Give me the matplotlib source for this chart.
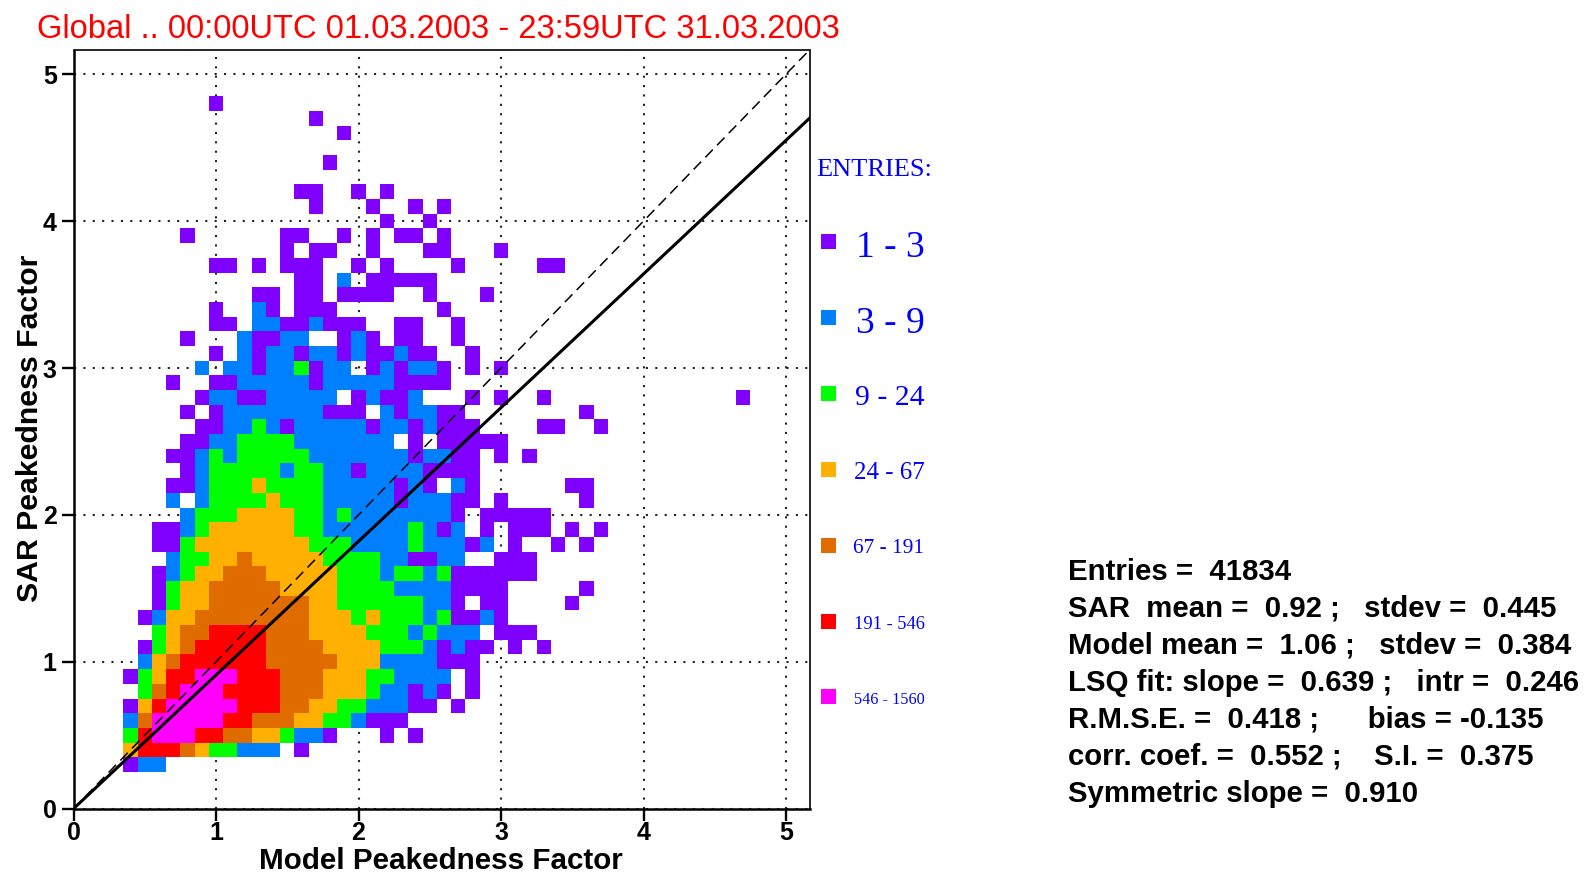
"""Peakedness factor scatter table: SAR against model, binned at 0.1."""
import matplotlib
matplotlib.use("Agg")
import matplotlib.pyplot as plt
import numpy as np
from matplotlib.colors import BoundaryNorm, ListedColormap
from matplotlib.patches import Rectangle

W, H = 1586, 872

TITLE = "Global .. 00:00UTC 01.03.2003 - 23:59UTC 31.03.2003"
X_LABEL = "Model Peakedness Factor"
Y_LABEL = "SAR Peakedness Factor"
TICKS = [0, 1, 2, 3, 4, 5]
BIN = 0.1
FIT_SLOPE = 0.910

LEGEND_LABELS = ["1 - 3", "3 - 9", "9 - 24", "24 - 67", "67 - 191", "191 - 546", "546 - 1560"]
LEVEL_COLORS = ["#8000ff", "#0080ff", "#00ff00", "#ffb000", "#e06c00", "#ff0000", "#ff00ff"]

STATS = [
    "Entries =  41834",
    "SAR  mean =  0.92 ;   stdev =  0.445",
    "Model mean =  1.06 ;   stdev =  0.384",
    "LSQ fit: slope =  0.639 ;   intr =  0.246",
    "R.M.S.E. =  0.418 ;      bias = -0.135",
    "corr. coef. =  0.552 ;    S.I. =  0.375",
    "Symmetric slope =  0.910",
]

# colour class per bin, '.' = no entries. First row is y=0.3, first char is x=0.4
FIRST_ROW = 3
FIRST_COL = 4
LEVEL_ROWS = [
    "122",
    "46665433222.1",
    "367776655443221...1.1",
    "25777776655544332111",
    "1467777766655443322211.1",
    ".3567776666555444322121.1",
    "13466777666555444332222.1",
    ".245666666555554442222111",
    ".1345666665555444433321211.1.1",
    "..34556666555444433323222.111",
    ".12445555555544434333231121",
    "..1344555555544333333221.11....1",
    "..1344555554444333322221111.....1",
    "..123445554444433323323111111",
    "...233445444443333221122..111",
    "..113444444443332222322212.1..1.1",
    "..1123444444332222223212.1.111.1.1",
    "....23334444332322222221.11111",
    "...2.23333433322222122211.1.....1",
    "...1123334333322222121.21......11",
    "....123333323322122221111",
    "...1123233333222222212211.1.1",
    "....112233332222222.1.11111",
    ".....11223212222212212111....11..1",
    "....1.12222222111.212211........1",
    ".....1221122222.12112...1.1..1.............1",
    "...1..11222221222221111",
    ".....2.221223122.121221.1.1",
    "......1.21221221211211..1",
    "....1...21122..121.11..1",
    "......11.22112111..11..1",
    "......1..21.111.......1",
    ".........11.11.1111..1...1",
    "............11.2.11111",
    "......11.1.111..1.1....1.....11",
    "...........1.11..1...11...1",
    "....1......11..1.1.11.1",
    "..................1..1",
    ".............1...1..1.1",
    "............11..1.1",
    "",
    "..............1",
    "",
    "...............1",
    ".............1",
    "......1",
]


def level_grid():
    ncol = FIRST_COL + max(len(r) for r in LEVEL_ROWS)
    nrow = FIRST_ROW + len(LEVEL_ROWS)
    grid = np.full((nrow, ncol), np.nan)
    for j, row in enumerate(LEVEL_ROWS):
        for i, ch in enumerate(row):
            if ch != ".":
                grid[FIRST_ROW + j, FIRST_COL + i] = int(ch)
    return grid


def main():
    plt.rcParams["font.family"] = ["Liberation Sans", "DejaVu Sans"]
    fig = plt.figure(figsize=(W / 100, H / 100), dpi=100)

    # axes box in pixels
    left, right, top, bottom = 73.5, 809.7, 50.5, 808.7
    ax = fig.add_axes([left / W, 1 - bottom / H, (right - left) / W, (bottom - top) / H])
    ax.set_xlim(0, (right - left) / 142.5)
    ax.set_ylim(0, (bottom - top) / 146.9)

    grid = level_grid()
    xe = (np.arange(grid.shape[1] + 1) - 0.5) * BIN
    ye = (np.arange(grid.shape[0] + 1) - 0.5) * BIN
    cmap = ListedColormap(LEVEL_COLORS)
    norm = BoundaryNorm(np.arange(0.5, 8.5), cmap.N)
    ax.pcolormesh(xe, ye, grid, cmap=cmap, norm=norm, antialiased=False, zorder=2)

    ax.grid(True, color="#222222", linestyle=(0, (1, 3.5)), linewidth=1.5, zorder=1)
    ax.set_axisbelow(True)

    xs = np.array([0, 6.0])
    ax.plot(xs, xs, color="black", lw=1.1, ls=(0, (7, 4)), zorder=3)
    ax.plot(xs, FIT_SLOPE * xs, color="black", lw=2.2, zorder=3)

    ax.set_xticks(TICKS)
    ax.set_yticks(TICKS)
    ax.tick_params(axis="x", length=8.5, width=1.7, labelsize=18, pad=0)
    ax.tick_params(axis="y", length=8.5, width=1.7, labelsize=18, pad=3.5)
    for lab in ax.get_xticklabels() + ax.get_yticklabels():
        lab.set_fontweight("bold")
    ax.spines["left"].set_linewidth(1.8)
    ax.spines["bottom"].set_linewidth(1.8)
    ax.spines["top"].set_linewidth(1.2)
    ax.spines["right"].set_linewidth(1.2)

    fig.text(37 / W, 1 - 29 / H, TITLE, color="#ff0000", fontsize=23.5, ha="left", va="center")
    fig.text(441 / W, 1 - 861 / H, X_LABEL, fontsize=21.3, fontweight="bold", ha="center", va="center")
    fig.text(30 / W, 1 - 428 / H, Y_LABEL, fontsize=21.8, fontweight="bold", ha="center", va="center",
             rotation=90)

    # colour key
    fig.text(816 / W, 1 - 170 / H, "ENTRIES:", color="#0000ff", family="Liberation Serif",
             fontsize=19, ha="left", va="center")
    sizes = [27, 27, 21.4, 18, 15.4, 13.3, 11.7]
    shifts = [6, 6, 5, 4, 3, 3, 3]
    for k, label in enumerate(LEGEND_LABELS):
        yc = 241.5 + k * 75.9
        fig.add_artist(Rectangle((821 / W, 1 - (yc + 7.5) / H), 15 / W, 15 / H, color=LEVEL_COLORS[k],
                                 transform=fig.transFigure, lw=0))
        fig.text(924.5 / W, 1 - (yc + shifts[k]) / H, label, color="#0000ff", family="Liberation Serif",
                 fontsize=sizes[k], ha="right", va="center")

    for k, line in enumerate(STATS):
        fig.text(1068 / W, 1 - (571.5 + k * 37.0) / H, line, fontsize=21.2, fontweight="bold",
                 ha="left", va="center")

    fig.savefig("out.png", dpi=100)


if __name__ == "__main__":
    main()
